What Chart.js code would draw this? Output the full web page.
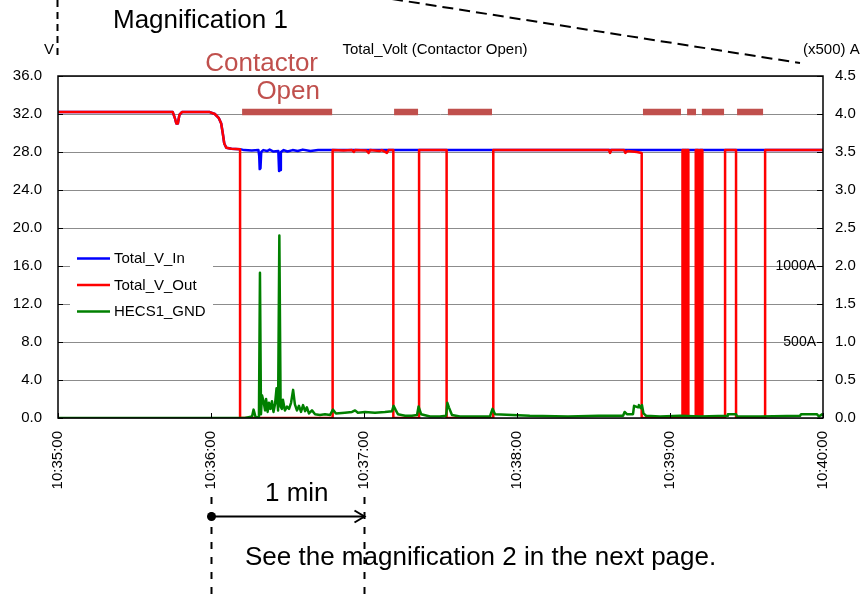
<!DOCTYPE html>
<html>
<head>
<meta charset="utf-8">
<script src="https://cdn.jsdelivr.net/npm/chart.js@4.4.1/dist/chart.umd.min.js"></script>
<style>
  html, body { margin: 0; padding: 0; background: #fff; }
  #wrap { width: 864px; height: 594px; }
</style>
</head>
<body>
<div id="wrap"><canvas id="c" width="864" height="594"></canvas></div>
<script>
const FONT = "'Liberation Sans', Arial, Helvetica, sans-serif";

// Time axis: seconds after 10:35:00
const timeTicks = ['10:35:00', '10:36:00', '10:37:00', '10:38:00', '10:39:00', '10:40:00'];

// Total_V_In (V)
const voltInTime = [0, 45.0, 45.8, 46.4, 47.0, 47.6, 48.6, 59.5, 61.5, 63.0, 64.0, 64.6, 65.2, 66.0, 68.0, 71.4,
  73.0, 76.0, 78.6, 78.9, 79.1, 79.4, 79.7, 80.5, 82.0, 83.0, 84.5, 86.4, 86.7, 87.1, 87.4, 88.5, 90.0, 92.0,
  94.0, 96.0, 99.0, 102.0, 107.7, 300];
const voltIn = [32.2, 32.2, 31.6, 31.0, 31.0, 31.9, 32.2, 32.2, 32.0, 31.6, 31.0, 30.0, 28.9, 28.45, 28.35, 28.3,
  28.2, 28.15, 28.2, 27.6, 26.2, 26.3, 28.0, 28.2, 28.1, 28.25, 28.05, 28.1, 26.0, 26.1, 28.0, 28.2, 28.05, 28.2,
  28.1, 28.25, 28.1, 28.2, 28.2, 28.2];

// Total_V_Out (V)
const voltOutTime = [0, 45.0, 45.8, 46.4, 47.0, 47.6, 48.6, 59.5, 61.5, 63.0, 64.0, 64.6, 65.2, 66.0, 68.0, 71.4,
  71.4, 107.7, 107.7, 112.0, 115.3, 116.0, 116.5, 121.0, 121.8, 122.4, 126.0, 127.0, 129.0, 129.6, 131.5,
  131.5, 141.6, 141.6, 152.4, 152.4, 170.7, 170.7, 200.0, 216.0, 216.5, 217.0, 222.0, 222.5, 223.3, 227.0, 228.9,
  228.9, 244.9, 244.9, 245.4, 245.4, 245.8, 245.8, 246.3, 246.3, 246.7, 246.7, 247.2, 247.2,
  250.1, 250.1, 251.0, 251.0, 251.8, 251.8, 252.7, 252.7, 261.6, 261.6, 265.9, 265.9, 277.3, 277.3, 300];
const voltOut = [32.2, 32.2, 31.6, 31.0, 31.0, 31.9, 32.2, 32.2, 32.0, 31.6, 31.0, 30.0, 28.9, 28.45, 28.35, 28.3,
  0.0, 0.0, 28.2, 28.15, 28.2, 28.0, 28.2, 28.15, 27.9, 28.2, 28.1, 28.2, 27.9, 28.2, 28.2,
  0.0, 0.0, 28.2, 28.2, 0.0, 0.0, 28.2, 28.2, 28.2, 27.9, 28.2, 28.2, 27.9, 28.1, 28.0, 27.9,
  0.0, 0.0, 28.2, 28.2, 0.0, 0.0, 28.2, 28.2, 0.0, 0.0, 28.2, 28.2, 0.0,
  0.0, 28.2, 28.2, 0.0, 0.0, 28.2, 28.2, 0.0, 0.0, 28.2, 28.2, 0.0, 0.0, 28.2, 28.2];

// HECS1_GND (x500 A)
const gndTime = [0, 73.3, 76.1, 76.7, 77.5, 78.8, 79.2, 79.6, 80.0, 80.6, 81.2, 81.6, 82.2, 82.7, 83.3, 83.9,
  84.5, 85.1, 85.7, 86.3, 86.8, 87.3, 87.8, 88.2, 89.0, 89.8, 90.6, 91.4, 92.2, 92.9, 93.7, 94.5, 95.3, 96.1,
  96.9, 97.6, 98.4, 99.6, 100.8, 102.7, 104.7, 106.7, 107.8, 109.0, 112.5, 115.3, 116.5, 117.6, 120.4, 124.3,
  128.2, 131.0, 131.6, 132.5, 133.3, 136.1, 138.8, 140.8, 141.4, 142.4, 145.9, 149.8, 152.2, 152.7, 153.3,
  154.5, 157.6, 163.5, 169.4, 170.4, 171.4, 185.0, 200.0, 212.0, 221.6, 222.2, 223.1, 225.5, 225.9, 227.5,
  227.8, 228.6, 229.0, 229.6, 230.6, 236.1, 243.9, 251.8, 262.4, 262.7, 265.9, 266.3, 275.3, 291.0, 291.4,
  297.6, 298.4, 299.6, 300];
const gnd = [0.0, 0.0, 0.02, 0.11, 0.01, 0.01, 1.91, 0.05, 0.30, 0.22, 0.10, 0.25, 0.08, 0.20, 0.12, 0.22,
  0.08, 0.18, 0.39, 0.10, 2.40, 0.15, 0.12, 0.24, 0.10, 0.15, 0.12, 0.20, 0.37, 0.18, 0.10, 0.16, 0.08, 0.17,
  0.09, 0.14, 0.06, 0.10, 0.05, 0.04, 0.05, 0.04, 0.11, 0.06, 0.07, 0.08, 0.10, 0.07, 0.08, 0.07,
  0.08, 0.09, 0.16, 0.10, 0.05, 0.03, 0.03, 0.04, 0.15, 0.05, 0.02, 0.02, 0.03, 0.20, 0.14,
  0.04, 0.02, 0.02, 0.02, 0.12, 0.05, 0.03, 0.02, 0.03, 0.03, 0.08, 0.05, 0.05, 0.16, 0.14,
  0.17, 0.13, 0.17, 0.06, 0.03, 0.02, 0.03, 0.02, 0.03, 0.05, 0.05, 0.02, 0.02, 0.03, 0.05,
  0.05, 0.02, 0.05, 0.03];

// Contactor-open intervals (seconds after 10:35:00) and the level the markers sit at (V)
const openStart = [72.2, 131.8, 152.9, 229.4, 246.7, 252.5, 266.3];
const openEnd   = [107.5, 141.2, 170.2, 244.3, 250.2, 261.2, 276.5];
const openMarkLevel = 32.2;

// Legend entries, top to bottom
const legendOrder = ['Total_V_In', 'Total_V_Out', 'HECS1_GND'];

const toPoints = (ts, vs) => ts.map((t, i) => ({ x: t, y: vs[i] }));
const openMarks = [];
openStart.forEach((s, i) => {
  openMarks.push({ x: s, y: openMarkLevel }, { x: openEnd[i], y: openMarkLevel }, { x: openEnd[i], y: null });
});

const decor = {
  id: 'decor',
  beforeDraw(chart) {
    const { ctx, width, height } = chart;
    ctx.save();
    ctx.fillStyle = '#fff';
    ctx.fillRect(0, 0, width, height);
    ctx.restore();
  },
  afterDraw(chart) {
    const { ctx, chartArea: a, scales } = chart;
    const x = scales.x, y = scales.y, y1 = scales.y1;
    ctx.save();

    // plot frame and inward tick marks
    ctx.strokeStyle = '#000';
    ctx.lineWidth = 1.5;
    ctx.strokeRect(a.left, a.top, a.right - a.left, a.bottom - a.top);
    ctx.lineWidth = 1;
    ctx.beginPath();
    y.ticks.forEach(t => {
      const py = Math.round(y.getPixelForValue(t.value)) + 0.5;
      ctx.moveTo(a.left, py); ctx.lineTo(a.left + 5, py);
    });
    y1.ticks.forEach(t => {
      const py = Math.round(y1.getPixelForValue(t.value)) + 0.5;
      ctx.moveTo(a.right, py); ctx.lineTo(a.right - 6, py);
    });
    x.ticks.forEach(t => {
      const px = Math.round(x.getPixelForValue(t.value)) + 0.5;
      ctx.moveTo(px, a.bottom); ctx.lineTo(px, a.bottom - 5);
    });
    ctx.stroke();

    // legend inside the plot
    const items = legendOrder.map(name => chart.data.datasets.find(d => d.label === name));
    ctx.fillStyle = '#fff';
    ctx.fillRect(70, 244, 143, 80);
    ctx.font = '15px ' + FONT;
    ctx.textBaseline = 'middle';
    ctx.textAlign = 'left';
    items.forEach((d, i) => {
      const ly = 258.5 + i * 26.5;
      ctx.strokeStyle = d.borderColor;
      ctx.lineWidth = 2.5;
      ctx.beginPath(); ctx.moveTo(77, ly); ctx.lineTo(110, ly); ctx.stroke();
      ctx.fillStyle = '#000';
      ctx.fillText(d.label, 114, ly + 0.5);
    });

    // current marks on the right axis
    ctx.font = '14px ' + FONT;
    ctx.textAlign = 'right';
    ctx.fillStyle = '#000';
    ctx.fillText('1000A', a.right - 7, y1.getPixelForValue(2.0));
    ctx.fillText('500A', a.right - 7, y1.getPixelForValue(1.0));

    // axis units and title
    ctx.textBaseline = 'alphabetic';
    ctx.font = '15px ' + FONT;
    ctx.textAlign = 'right';
    ctx.fillText('V', 54, 54);
    ctx.textAlign = 'center';
    ctx.fillText('Total_Volt (Contactor Open)', 435, 54);
    ctx.textAlign = 'left';
    ctx.fillText('(x500) A', 803, 54);

    // magnification callout
    ctx.font = '26px ' + FONT;
    ctx.textAlign = 'left';
    ctx.fillText('Magnification 1', 113, 28);
    ctx.strokeStyle = '#000';
    ctx.lineWidth = 2;
    ctx.setLineDash([7, 5]);
    ctx.beginPath(); ctx.moveTo(a.left - 0.5, 0); ctx.lineTo(a.left - 0.5, 58); ctx.stroke();
    ctx.setLineDash([11, 6]);
    ctx.beginPath(); ctx.moveTo(392, -1); ctx.lineTo(800, 63); ctx.stroke();

    // contactor open caption
    ctx.fillStyle = '#C0504D';
    ctx.textAlign = 'right';
    ctx.fillText('Contactor', 318, 71);
    ctx.fillText('Open', 320, 99);

    // one-minute span below the time axis
    const x36 = Math.round(x.getPixelForValue(60)) + 0.5;
    const x37 = Math.round(x.getPixelForValue(120)) + 0.5;
    ctx.strokeStyle = '#000';
    ctx.setLineDash([7, 8]);
    ctx.beginPath();
    ctx.moveTo(x36, 497); ctx.lineTo(x36, 594);
    ctx.moveTo(x37, 497); ctx.lineTo(x37, 594);
    ctx.stroke();
    ctx.setLineDash([]);
    const ay = 516.5;
    ctx.beginPath(); ctx.moveTo(x36, ay); ctx.lineTo(x37, ay); ctx.stroke();
    ctx.beginPath(); ctx.moveTo(x37 - 10, ay - 6); ctx.lineTo(x37, ay); ctx.lineTo(x37 - 10, ay + 6); ctx.stroke();
    ctx.fillStyle = '#000';
    ctx.beginPath(); ctx.arc(x36, ay, 4.5, 0, Math.PI * 2); ctx.fill();
    ctx.textAlign = 'left';
    ctx.fillText('1 min', 265, 501);
    ctx.fillText('See the magnification 2 in the next page.', 245, 565);

    ctx.restore();
  }
};

new Chart(document.getElementById('c'), {
  type: 'line',
  data: {
    datasets: [
      { label: 'open', data: openMarks, yAxisID: 'y', borderColor: '#C0504D', borderWidth: 6.5,
        borderCapStyle: 'butt', spanGaps: false, pointRadius: 0, order: 0 },
      { label: 'HECS1_GND', data: toPoints(gndTime, gnd), yAxisID: 'y1',
        borderColor: '#008000', borderWidth: 2.5, pointRadius: 0, order: 1 },
      { label: 'Total_V_Out', data: toPoints(voltOutTime, voltOut), yAxisID: 'y',
        borderColor: '#FF0000', borderWidth: 2.5, pointRadius: 0, order: 2 },
      { label: 'Total_V_In', data: toPoints(voltInTime, voltIn), yAxisID: 'y',
        borderColor: '#0000FF', borderWidth: 2.5, pointRadius: 0, order: 3 }
    ]
  },
  options: {
    responsive: false,
    animation: false,
    devicePixelRatio: 1,
    parsing: false,
    normalized: true,
    elements: { line: { tension: 0, borderJoinStyle: 'round' } },
    layout: { padding: { top: 76, left: 0, right: 0, bottom: 0 } },
    plugins: { legend: { display: false }, tooltip: { enabled: false } },
    scales: {
      x: {
        type: 'linear', min: 0, max: 300,
        afterFit: s => { s.height = 176; },
        afterBuildTicks: s => { s.ticks = timeTicks.map((_, i) => ({ value: i * 60 })); },
        grid: { display: false, drawTicks: false },
        border: { display: false },
        ticks: {
          autoSkip: false, minRotation: 90, maxRotation: 90, padding: 13,
          color: '#000', font: { family: FONT, size: 15 },
          callback: (v, i) => timeTicks[i]
        }
      },
      y: {
        position: 'left', min: 0, max: 36,
        afterFit: s => { s.width = 58; },
        grid: { color: '#8c8c8c', lineWidth: 1, drawTicks: false },
        border: { display: false },
        ticks: { stepSize: 4, padding: 16, color: '#000', font: { family: FONT, size: 15 },
          callback: v => v.toFixed(1) }
      },
      y1: {
        position: 'right', min: 0, max: 4.5,
        afterFit: s => { s.width = 41; },
        grid: { display: false, drawTicks: false },
        border: { display: false },
        ticks: { stepSize: 0.5, padding: 12, color: '#000', font: { family: FONT, size: 15 },
          callback: v => v.toFixed(1) }
      }
    }
  },
  plugins: [decor]
});
</script>
</body>
</html>
